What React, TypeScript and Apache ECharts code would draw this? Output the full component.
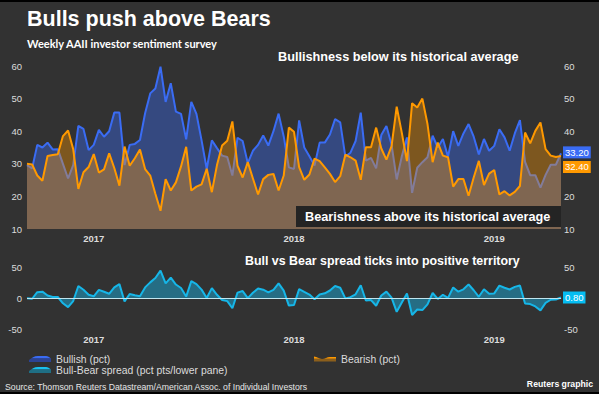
import React, { useEffect, useRef } from "react";
import * as echarts from "echarts";

// Weekly AAII survey readings (percent)
const bullish = [
  29.6, 28.6, 35.8, 35.0, 36.5, 34.4, 34.5, 30.0, 25.5, 29.6,
  41.6, 40.7, 34.2, 35.8, 40.4, 38.3, 40.0, 45.7, 45.7, 29.6,
  35.8, 36.1, 37.3, 45.5, 51.6, 53.1, 59.8, 49.0, 54.7, 46.0,
  45.3, 37.5, 49.0, 45.3, 37.2, 28.4, 37.2, 34.8, 32.5, 32.1,
  26.4, 38.0, 37.0, 30.2, 34.0, 35.8, 38.7, 35.6, 40.0, 45.4,
  38.4, 28.9, 28.4, 43.3, 35.0, 32.3, 29.5, 36.5, 36.5, 39.0,
  43.7, 42.7, 32.2, 33.4, 37.0, 45.7, 31.0, 31.8, 28.6, 38.8,
  41.6, 35.9, 25.2, 32.3, 38.1, 21.1, 28.8, 30.5, 32.0, 38.6,
  35.0, 37.6, 32.2, 40.0, 35.5, 39.3, 42.2, 38.3, 32.9, 37.6,
  34.0, 35.5, 40.6, 38.1, 34.0, 39.3, 43.4, 30.6, 26.5, 26.5,
  22.7, 26.6, 29.7, 29.7, 33.2,
];
const bearish = [
  30.0, 29.8, 26.4, 24.8, 32.4, 32.7, 32.9, 38.5, 40.2, 34.5,
  22.3, 27.4, 29.0, 33.0, 27.3, 28.3, 33.2, 28.7, 23.3, 35.3,
  29.4, 31.7, 34.4, 28.4, 26.4, 20.8, 15.6, 25.3, 21.8, 24.3,
  29.2, 35.2, 21.8, 23.0, 23.7, 28.5, 21.3, 29.6, 35.6, 37.1,
  43.0, 29.4, 25.8, 30.5, 25.5, 20.6, 25.3, 26.6, 26.9, 21.8,
  26.4, 41.1, 39.8, 29.0, 25.1, 26.7, 31.6, 30.8, 28.9, 26.9,
  24.4, 26.2, 32.8, 32.0, 31.0, 25.1, 35.1, 35.1, 41.1, 34.7,
  31.3, 35.4, 47.5, 39.5, 30.8, 48.6, 47.3, 50.0, 42.2, 30.5,
  36.5, 32.5, 32.0, 23.0, 25.3, 25.3, 20.2, 25.8, 30.9, 23.5,
  27.0, 28.1, 20.6, 21.6, 20.3, 21.4, 23.2, 39.6, 36.3, 40.1,
  42.7, 34.5, 32.5, 32.1, 32.4,
];
// Bull-Bear spread (pct pts), lower pane
const spread = [
  -0.4, -1.2, 9.4, 10.2, 4.1, 1.7, 1.6, -8.5, -14.7, -4.9,
  19.3, 13.3, 5.2, 2.8, 13.1, 10.0, 6.8, 17.0, 22.4, -5.7,
  6.4, 4.4, 2.9, 17.1, 25.2, 32.3, 44.2, 23.7, 32.9, 21.7,
  16.1, 2.3, 27.2, 22.3, 13.5, -0.1, 15.9, 5.2, -3.1, -5.0,
  -16.6, 8.6, 11.2, -0.3, 8.5, 15.2, 13.4, 9.0, 13.1, 23.6,
  12.0, -12.2, -11.4, 14.3, 9.9, 5.6, -2.1, 5.7, 7.6, 12.1,
  19.3, 16.5, -0.6, 1.4, 6.0, 20.6, -4.1, -3.3, -12.5, 4.1,
  10.3, 0.5, -22.3, -7.2, 7.3, -27.5, -18.5, -19.5, -10.2, 8.1,
  -1.5, 5.1, 0.2, 17.0, 10.2, 14.0, 22.0, 12.5, 2.0, 14.1,
  7.0, 7.4, 20.0, 16.5, 13.7, 17.9, 20.2, -9.0, -9.8, -13.6,
  -20.0, -7.9, -2.8, -2.4, 0.8,
];

const firstWeek = "2017-07-06";
const weeks = bullish.map((_, i) =>
  new Date(Date.parse(firstWeek) + i * 7 * 86400000).toISOString().slice(0, 10)
);

const yearLabels = ["2017", "2018", "2019"];
const yearLabelWeeks = [13, 52, 91];
const upperRange = [10, 60, 10];
const lowerRange = [-50, 50, 50];
// right-hand tick labels that sit underneath the latest-value badges
const upperRightCovered = [30];
const lowerRightCovered = [0];

const BULL = "#3a6cf4";
const BEAR = "#ff9900";
const SPREAD = "#16b6e8";
const LABEL = "#dcdcdc";
const FONT = '"Liberation Sans", Arial, sans-serif';

const bandGradient = (top: string, bottom: string) => ({
  type: "linear",
  x: 0,
  y: 0,
  x2: 0,
  y2: 1,
  colorStops: [
    { offset: 0, color: top },
    { offset: 0.38, color: top },
    { offset: 0.42, color: bottom },
    { offset: 1, color: bottom },
  ],
});

const waveA = "path://M0,4 C3,2 5,0 9,0 L17,0 C19,0 20,1 22,2.5 L22,6 L0,6 Z";
const waveB = "path://M0,1 C3,1 5,3.5 8,3.5 C11,3.5 13,1.5 16,1.5 L22,1.5 L22,6 L0,6 Z";

export default function App() {
  const ref = useRef<HTMLDivElement>(null);

  useEffect(() => {
    if (!ref.current) return;
    const chart = echarts.init(ref.current, undefined, { renderer: "svg" });

    const xAxisBase = (gridIndex: number, margin: number) => ({
      type: "category",
      gridIndex,
      data: weeks,
      boundaryGap: false,
      axisLine: { show: false },
      axisTick: { show: false },
      splitLine: { show: false },
      axisLabel: {
        interval: (idx: number) => yearLabelWeeks.includes(idx),
        formatter: (_v: string, idx: number) => yearLabels[yearLabelWeeks.indexOf(idx)] ?? "",
        color: LABEL,
        fontSize: 9.5,
        fontWeight: "bold",
        fontFamily: FONT,
        margin,
      },
    });

    const yAxisBase = (
      gridIndex: number,
      range: number[],
      position: string,
      covered: number[] = []
    ) => ({
      type: "value",
      gridIndex,
      min: range[0],
      max: range[1],
      interval: range[2],
      position,
      axisLine: { show: false },
      axisTick: { show: false },
      splitLine: { show: false },
      axisLabel: {
        color: LABEL,
        fontSize: 9.5,
        fontFamily: FONT,
        margin: position === "left" ? 5 : 3,
        formatter: (v: number) => (covered.includes(v) ? "" : String(v)),
      },
    });

    const badge = (bg: string, offsetY: number) => ({
      show: true,
      formatter: (p: any) => Number(p.value).toFixed(2),
      backgroundColor: bg,
      color: "#ffffff",
      fontSize: 9.5,
      fontFamily: FONT,
      padding: [1, 2, 1, 2],
      distance: 2,
      offset: [0, offsetY],
    });

    const legendBase = (left: number, top: number) => ({
      left,
      top,
      padding: 0,
      itemWidth: 22,
      itemHeight: 6,
      textStyle: { color: LABEL, fontSize: 10.4, fontFamily: FONT },
    });

    const option: any = {
      animation: false,
      backgroundColor: "#323232",
      textStyle: { fontFamily: FONT },
      grid: [
        { left: 27, right: 38, top: 66, height: 163 },
        { left: 27, right: 38, top: 267, height: 62 },
      ],
      xAxis: [xAxisBase(0, 4), xAxisBase(1, 5)],
      yAxis: [
        yAxisBase(0, upperRange, "left"),
        yAxisBase(0, upperRange, "right", upperRightCovered),
        yAxisBase(1, lowerRange, "left"),
        yAxisBase(1, lowerRange, "right", lowerRightCovered),
      ],
      legend: [
        {
          ...legendBase(29, 354),
          data: [
            {
              name: "Bullish (pct)",
              icon: waveA,
              itemStyle: { color: bandGradient(BULL, "#2c4393"), borderWidth: 0 },
            },
          ],
        },
        {
          ...legendBase(314, 354),
          data: [
            {
              name: "Bearish (pct)",
              icon: waveB,
              itemStyle: { color: bandGradient(BEAR, "#8c5f1c"), borderWidth: 0 },
            },
          ],
        },
        {
          ...legendBase(29, 365),
          data: [
            {
              name: "Bull-Bear spread (pct pts/lower pane)",
              icon: waveA,
              itemStyle: { color: bandGradient("#19c0ee", "#1f6f85"), borderWidth: 0 },
            },
          ],
        },
      ],
      series: [
        {
          name: "Bullish (pct)",
          type: "line",
          xAxisIndex: 0,
          yAxisIndex: 0,
          data: bullish,
          symbol: "none",
          color: BULL,
          lineStyle: { color: BULL, width: 2 },
          areaStyle: { color: BULL, opacity: 0.4, origin: "start" },
          endLabel: badge(BULL, -1),
          z: 2,
        },
        {
          name: "Bearish (pct)",
          type: "line",
          xAxisIndex: 0,
          yAxisIndex: 0,
          data: bearish,
          symbol: "none",
          color: BEAR,
          lineStyle: { color: BEAR, width: 2 },
          areaStyle: { color: BEAR, opacity: 0.37, origin: "start" },
          endLabel: badge(BEAR, 11),
          z: 3,
        },
        {
          name: "Bull-Bear spread (pct pts/lower pane)",
          type: "line",
          xAxisIndex: 1,
          yAxisIndex: 2,
          data: spread,
          symbol: "none",
          color: SPREAD,
          lineStyle: { color: SPREAD, width: 2 },
          areaStyle: { color: SPREAD, opacity: 0.45, origin: "auto" },
          endLabel: badge("#05bdf2", 0),
          markLine: {
            silent: true,
            symbol: "none",
            label: { show: false },
            lineStyle: { color: "#bfe6f0", width: 1, type: "solid" },
            data: [{ yAxis: 0 }],
          },
          z: 3,
        },
      ],
      graphic: [
        { type: "rect", shape: { x: 0, y: 0, width: 599, height: 2 }, style: { fill: "#000" }, z: 100 },
        { type: "rect", shape: { x: 0, y: 392, width: 599, height: 2 }, style: { fill: "#000" }, z: 100 },
        {
          type: "text",
          x: 27,
          y: 18.5,
          z: 100,
          style: {
            text: "Bulls push above Bears",
            fill: "#ffffff",
            fontSize: 21.5,
            fontWeight: "bold",
            fontFamily: FONT,
            verticalAlign: "middle",
          },
        },
        {
          type: "text",
          x: 27,
          y: 43.5,
          z: 100,
          style: {
            text: "Weekly AAII investor sentiment survey",
            fill: "#ffffff",
            fontSize: 11,
            fontWeight: "bold",
            fontFamily: "Lato, sans-serif",
            verticalAlign: "middle",
          },
        },
        {
          type: "text",
          x: 278,
          y: 57,
          z: 100,
          style: {
            text: "Bullishness below its historical average",
            fill: "#ffffff",
            fontSize: 12.7,
            fontWeight: "bold",
            fontFamily: FONT,
            verticalAlign: "middle",
          },
        },
        {
          type: "rect",
          z: 100,
          shape: { x: 296, y: 206, width: 265, height: 21 },
          style: { fill: "#242424" },
        },
        {
          type: "text",
          x: 305,
          y: 216.7,
          z: 101,
          style: {
            text: "Bearishness above its historical average",
            fill: "#ffffff",
            fontSize: 12.7,
            fontWeight: "bold",
            fontFamily: FONT,
            verticalAlign: "middle",
          },
        },
        {
          type: "text",
          x: 245,
          y: 260.5,
          z: 100,
          style: {
            text: "Bull vs Bear spread ticks into positive territory",
            fill: "#ffffff",
            fontSize: 12.4,
            fontWeight: "bold",
            fontFamily: FONT,
            verticalAlign: "middle",
          },
        },
        {
          type: "text",
          x: 5,
          y: 386.5,
          z: 100,
          style: {
            text: "Source: Thomson Reuters Datastream/American Assoc. of Individual Investors",
            fill: "#e6e6e6",
            fontSize: 8.7,
            fontFamily: FONT,
            verticalAlign: "middle",
          },
        },
        {
          type: "text",
          x: 593,
          y: 384,
          z: 100,
          style: {
            text: "Reuters graphic",
            fill: "#ffffff",
            fontSize: 8.7,
            fontWeight: "bold",
            fontFamily: FONT,
            align: "right",
            verticalAlign: "middle",
          },
        },
      ],
    };

    chart.setOption(option);
    return () => chart.dispose();
  }, []);

  return (
    <div
      ref={ref}
      style={{ position: "fixed", left: 0, top: 0, width: 599, height: 394 }}
    />
  );
}
